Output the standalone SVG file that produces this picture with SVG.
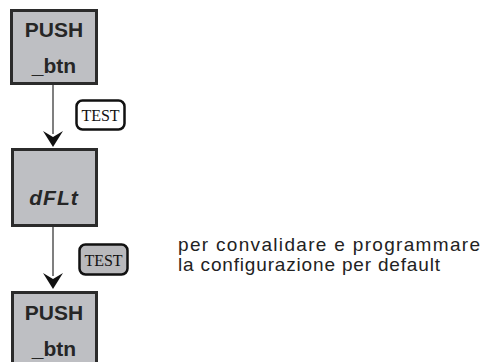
<svg xmlns="http://www.w3.org/2000/svg" width="487" height="362" viewBox="0 0 487 362">
<style>
.box{fill:#bebfc3;stroke:#2b2b2b;stroke-width:3}
.bt{font-family:"Liberation Sans",Arial,sans-serif;font-weight:bold;font-size:21px;fill:#262626;text-anchor:middle}
.tag{stroke:#111;stroke-width:2.5}
.tt{font-family:"Liberation Serif","Times New Roman",serif;font-size:16px;fill:#111;text-anchor:middle}
.desc{font-family:"Liberation Sans",Arial,sans-serif;font-size:19px;fill:#222}
.ln{stroke:#555;stroke-width:1.5;fill:none}
.ah{fill:#111}
</style>
<g id="connectors">
<line class="ln" x1="53" y1="84" x2="53" y2="134"/>
<path class="ah" d="M43,131 L53,137 L63,131 L53,147 Z"/>
<line class="ln" x1="53" y1="226" x2="53" y2="276"/>
<path class="ah" d="M43,273 L53,279 L63,273 L53,289 Z"/>
</g>
<g id="push1">
<rect class="box" x="11.5" y="10.5" width="85" height="73"/>
<text class="bt" x="54" y="37">PUSH</text>
<text class="bt" x="54" y="73">_btn</text>
</g>
<g id="test1">
<rect class="tag" x="76.5" y="100.5" width="48" height="29" rx="6" fill="#fff"/>
<text class="tt" x="100.5" y="121">TEST</text>
</g>
<g id="dflt">
<rect class="box" x="12.5" y="149.5" width="84" height="76"/>
<text class="bt" x="54" y="205" font-style="italic" letter-spacing="1">dFLt</text>
</g>
<g id="test2">
<rect class="tag" x="79.5" y="244.5" width="48" height="30" rx="6" fill="#b9b9bc"/>
<text class="tt" x="103.5" y="266">TEST</text>
</g>
<g id="push2">
<rect class="box" x="12.5" y="292.5" width="84" height="75"/>
<text class="bt" x="54" y="320">PUSH</text>
<text class="bt" x="54" y="356">_btn</text>
</g>
<g id="note">
<text class="desc" x="178" y="251" textLength="302" lengthAdjust="spacing">per convalidare e programmare</text>
<text class="desc" x="178" y="271" textLength="262" lengthAdjust="spacing">la configurazione per default</text>
</g>
</svg>
